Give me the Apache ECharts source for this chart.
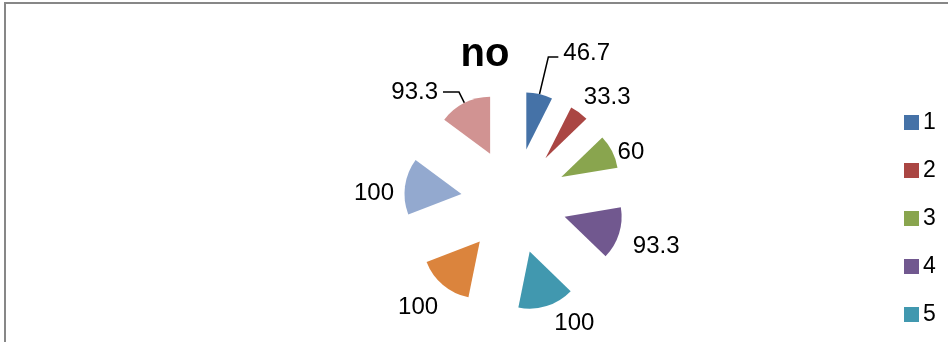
<!DOCTYPE html>
<html>
<head>
<meta charset="utf-8">
<title>no</title>
<script src="https://cdn.jsdelivr.net/npm/echarts@6/dist/echarts.min.js"></script>
<style>
	html, body { margin: 0; padding: 0; background: #fff; }
	#chart { width: 948px; height: 342px; }
</style>
</head>
<body>
	<div id="chart"></div>
	<script>
		// 数据
		var categories = ['1', '2', '3', '4', '5', '6', '7', '8'];
		var values = [46.7, 33.3, 60, 93.3, 100, 100, 100, 93.3];
		var colors = ['#4572A7', '#AA4643', '#89A54E', '#71588F', '#4198AF', '#DB843D', '#93A9CF', '#D19392'];

		var chart = echarts.init(document.getElementById('chart'));

		var pieData = [];
		for (var i = 0; i < values.length; i++) {
			pieData.push({
				name: categories[i],
				value: values[i],
				selected: true,
				itemStyle: { color: colors[i] }
			});
		}
		// 第一块和最后一块有引导线
		pieData[0].labelLine = { show: true, length: 38, length2: 10 };
		pieData[7].labelLine = { show: true, length: 12, length2: 16 };

		// 标签微调（像素）
		var nudge = {
			0: [0, -4], 1: [-8, -10], 2: [-9, 4], 3: [-1, 11],
			4: [-3, 12], 5: [8, 18], 6: [4, 8], 7: [0, 0]
		};

		var option = {
			animation: false,
			textStyle: { fontFamily: 'Liberation Sans' },
			title: {
				text: 'no',
				left: 480,
				top: 30,
				textAlign: 'center',
				textStyle: { fontSize: 40, fontWeight: 'bold', color: '#000', fontFamily: 'Liberation Sans' }
			},
			legend: {
				orient: 'vertical',
				left: 899,
				top: 106,
				height: 600,
				itemWidth: 15,
				itemHeight: 15,
				itemGap: 25,
				icon: 'rect',
				selectedMode: false,
				textStyle: { fontSize: 23, color: '#000', padding: [0, 0, 0, -1] },
				data: categories
			},
			graphic: [{
				type: 'rect',
				shape: { x: 5, y: 3, width: 1000, height: 400 },
				style: { fill: null, stroke: '#878787', lineWidth: 2 },
				silent: true
			}],
			series: [{
				type: 'pie',
				center: [514, 201],
				radius: 57,
				startAngle: 90,
				clockwise: true,
				selectedMode: 'multiple',
				selectedOffset: 53,
				avoidLabelOverlap: false,
				emphasis: { disabled: true },
				label: {
					show: true,
					position: 'outside',
					fontSize: 24,
					color: '#000',
					formatter: '{c}'
				},
				labelLine: {
					show: false,
					length: 6,
					length2: 4,
					lineStyle: { color: '#000', width: 1.5 }
				},
				labelLayout: function (params) {
					var d = nudge[params.dataIndex] || [0, 0];
					return { hideOverlap: false, dx: d[0], dy: d[1] };
				},
				data: pieData
			}]
		};
		chart.setOption(option);
	</script>
</body>
</html>
